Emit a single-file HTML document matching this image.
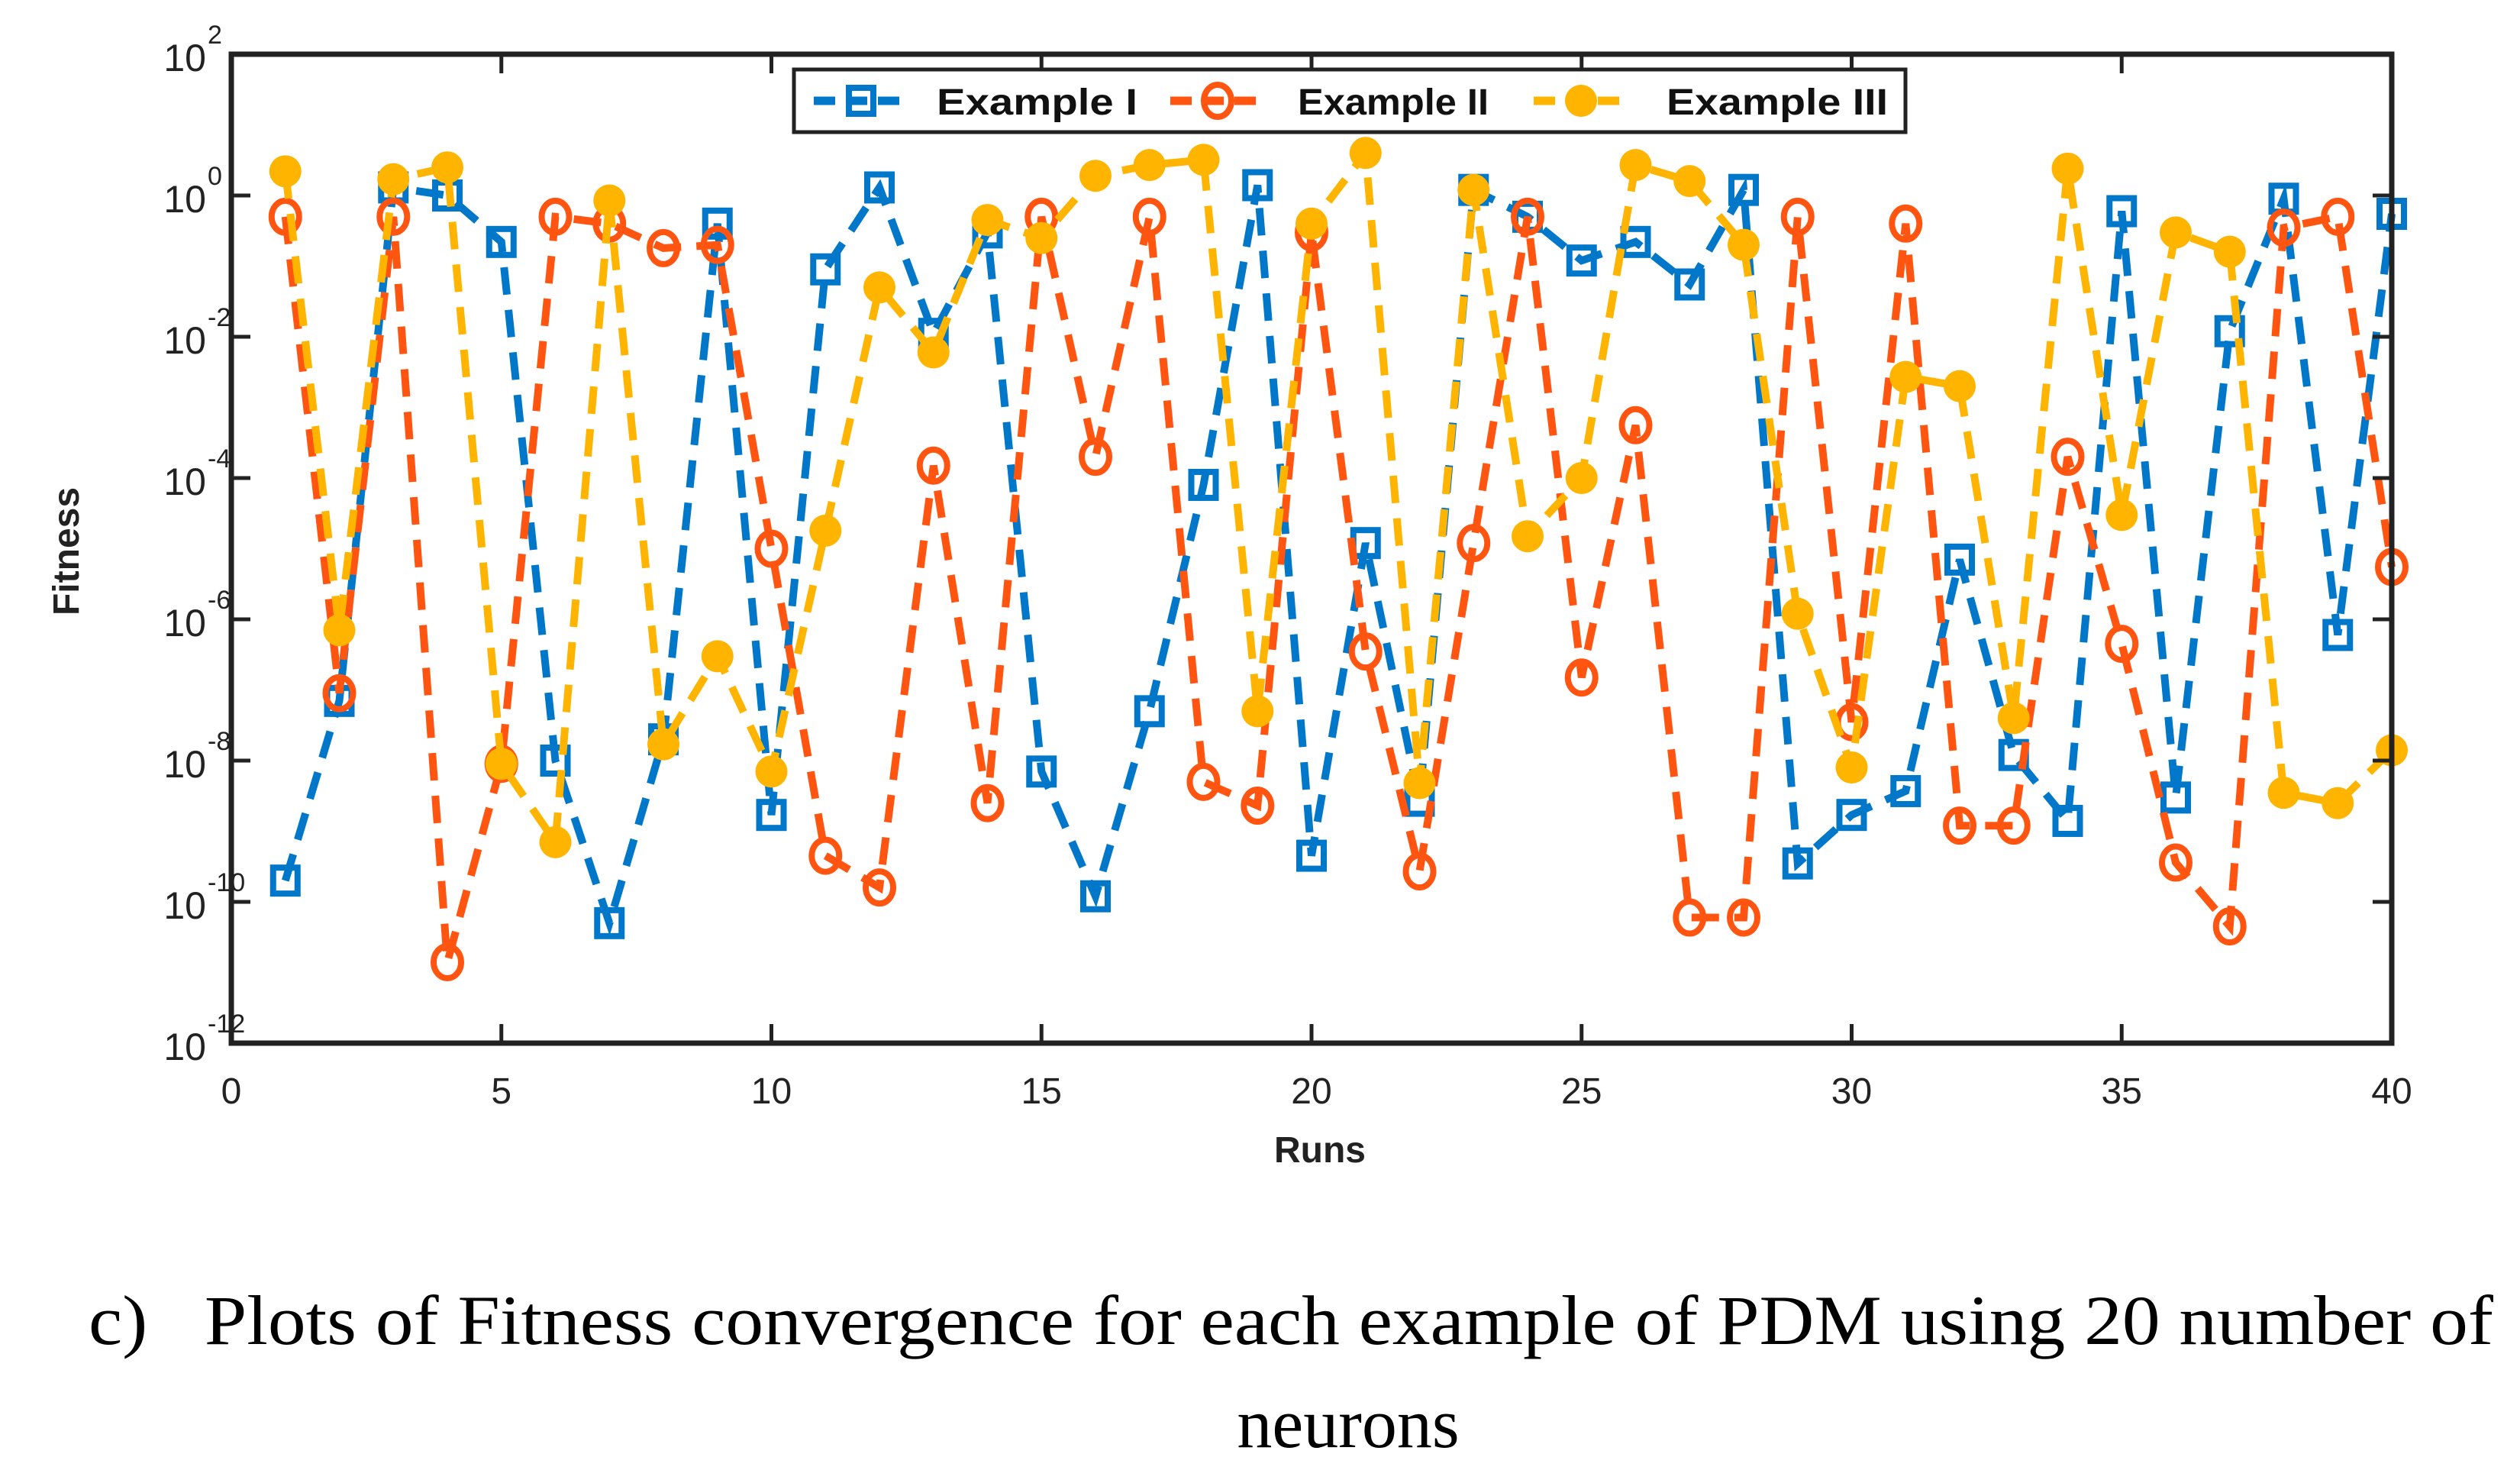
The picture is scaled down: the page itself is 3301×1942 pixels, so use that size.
<!DOCTYPE html>
<html><head><meta charset="utf-8"><style>
html,body{margin:0;padding:0;background:#fff;}
svg{display:block;}
</style></head><body>
<svg id="chart" width="3301" height="1942" viewBox="0 0 3301 1942" xmlns="http://www.w3.org/2000/svg">
<rect width="3301" height="1942" fill="#fff"/>
<g id="plot"></g>
<g id="axes"></g>
<g id="legend"></g>
<text x="1729" y="1522" font-family="Liberation Sans, sans-serif" font-size="48" font-weight="bold" fill="#222" text-anchor="middle">Runs</text>
<text transform="translate(103,722) rotate(-90)" font-family="Liberation Sans, sans-serif" font-size="48" font-weight="bold" fill="#222" text-anchor="middle">Fitness</text>
<text x="116" y="1760" font-family="Liberation Serif, serif" font-size="92" fill="#000" textLength="3150" lengthAdjust="spacingAndGlyphs">c)&#160;&#160;&#160;Plots of Fitness convergence for each example of PDM using 20 number of</text>
<text x="1766" y="1895" font-family="Liberation Serif, serif" font-size="92" fill="#000" text-anchor="middle">neurons</text>
</svg>
<script>
const runs = Array.from({length:40},(_,i)=>i+1);
const exampleI = [2e-10,7e-8,1.3,1,0.22,1e-8,5e-11,2e-8,0.4,1.7e-9,0.09,1.3,0.011,0.3,7e-9,1.2e-10,5e-8,8e-5,1.4,4.5e-10,1.2e-5,2.7e-9,1.2,0.5,0.12,0.22,0.055,1.2,3.5e-10,1.7e-9,3.7e-9,7e-6,1.2e-8,1.4e-9,0.6,3e-9,0.012,0.9,6e-7,0.55];
const exampleII = [0.5,9e-8,0.5,1.4e-11,9e-9,0.5,0.4,0.18,0.2,1e-5,4.5e-10,1.6e-10,1.5e-4,2.5e-9,0.5,2e-4,0.5,5e-9,2.3e-9,0.3,3.5e-7,2.7e-10,1.2e-5,0.5,1.5e-7,5.6e-4,6e-11,6e-11,0.5,3.5e-8,0.4,1.2e-9,1.2e-9,2e-4,4.5e-7,3.6e-10,4.5e-11,0.35,0.5,5.5e-6];
const exampleIII = [2.2,7e-7,1.7,2.5,9e-9,7e-10,0.85,1.7e-8,3e-7,7e-9,1.8e-5,0.05,0.006,0.45,0.25,1.9,2.7,3.2,5e-8,0.4,4,4.8e-9,1.2,1.5e-5,1e-4,2.7,1.6,0.2,1.2e-6,8e-9,0.0027,0.002,4e-8,2.4,3e-5,0.3,0.16,3.5e-9,2.5e-9,1.4e-8];
const xTicks = [0,5,10,15,20,25,30,35,40];
const yTickExps = [2,0,-2,-4,-6,-8,-10,-12];
const seriesNames = ["Example I","Example II","Example III"];

const NS="http://www.w3.org/2000/svg";
const L=303,R=3133,T=71,B=1366;
const xS=v=>L+(v-0)/(40-0)*(R-L);
const yS=v=>T+(2-Math.log10(v))/14*(B-T);
function mk(tag,attrs,parent){const e=document.createElementNS(NS,tag);for(const k in attrs)e.setAttribute(k,attrs[k]);parent.appendChild(e);return e;}
const plot=document.getElementById('plot'),axes=document.getElementById('axes'),leg=document.getElementById('legend');
const colors=["#0077c8","#ff5511","#ffb400"];
const data=[exampleI,exampleII,exampleIII];

function marker(k,x,y,g){
  let m;
  if(k===0){m=mk('rect',{x:x-16,y:y-17,width:32,height:34,fill:'none',stroke:colors[0],'stroke-width':8},g);}
  else if(k===1){m=mk('ellipse',{cx:x,cy:y,rx:18,ry:21,fill:'none',stroke:colors[1],'stroke-width':8},g);}
  else {m=mk('circle',{cx:x,cy:y,r:21,fill:colors[2]},g);}
  return m;
}
data.forEach((vals,k)=>{
  const g=mk('g',{},plot);
  
  
  const pts=vals.map((v,i)=>xS(runs[i]).toFixed(1)+','+yS(v).toFixed(1)).join(' ');
  const pl=mk('polyline',{points:pts,fill:'none',stroke:colors[k],'stroke-width':10,'stroke-dasharray':'36 20'},g);
  
  
  vals.forEach((v,i)=>{
    const m=marker(k,xS(runs[i]),yS(v),g);
    
    
  });
});

const fr=mk('rect',{x:L,y:T,width:R-L,height:B-T,fill:'none',stroke:'#222','stroke-width':7},axes);


xTicks.forEach(t=>{
  const x=xS(t);
  mk('line',{x1:x,y1:B,x2:x,y2:B-25,stroke:'#222','stroke-width':5},axes);
  mk('line',{x1:x,y1:T,x2:x,y2:T+25,stroke:'#222','stroke-width':5},axes);
  const tx=mk('text',{x:x,y:1445,'font-family':'Liberation Sans, sans-serif','font-size':48,fill:'#222','text-anchor':'middle'},axes);
  tx.textContent=t;
  
  
});
yTickExps.forEach(e=>{
  const y=yS(Math.pow(10,e));
  mk('line',{x1:L,y1:y,x2:L+25,y2:y,stroke:'#222','stroke-width':5},axes);
  mk('line',{x1:R,y1:y,x2:R-25,y2:y,stroke:'#222','stroke-width':5},axes);
  const tx=mk('text',{x:270,y:y+22,'font-family':'Liberation Sans, sans-serif','font-size':50,fill:'#222','text-anchor':'end'},axes);
  tx.textContent='10';
  
  
  const sp=mk('text',{x:272,y:y-14,'font-family':'Liberation Sans, sans-serif','font-size':34,fill:'#222','text-anchor':'start'},axes);
  sp.textContent=(e<0?'-':'')+Math.abs(e);
  
  
});

const lb=mk('rect',{x:1040,y:91,width:1456,height:82,fill:'#fff',stroke:'#222','stroke-width':5},leg);


const lx=[1128,1595,2071],tx0=[1227,1700,2183],tw=[263,250,290];
seriesNames.forEach((n,k)=>{
  const g=mk('g',{},leg);
  
  
  mk('line',{x1:lx[k]-62,y1:132,x2:lx[k]+52,y2:132,stroke:colors[k],'stroke-width':11,'stroke-dasharray':'28 14'},g);
  marker(k,lx[k],132,g);
  const t=mk('text',{x:tx0[k],y:150,'font-family':'Liberation Sans, sans-serif','font-size':48,'font-weight':'bold',fill:'#111',textLength:tw[k],lengthAdjust:'spacingAndGlyphs'},g);
  t.textContent=n;
});
</script>
</body></html>
